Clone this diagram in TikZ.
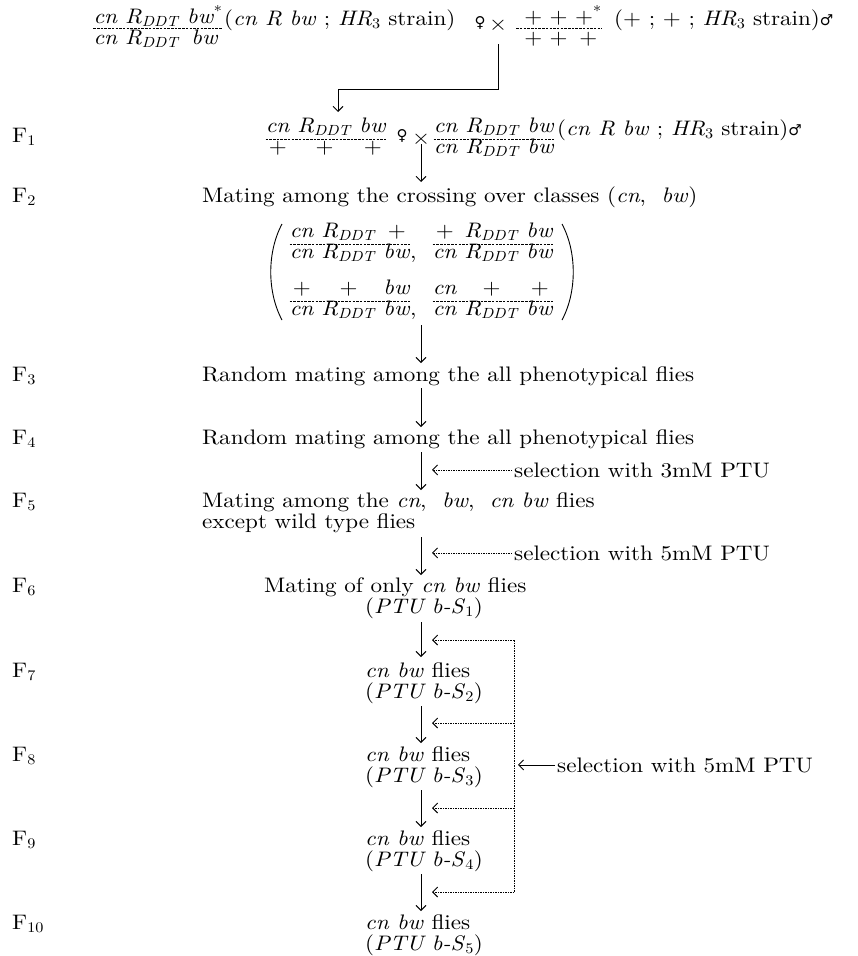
\documentclass[tikz,border=0pt]{standalone}
\usepackage{fontspec}
\setmainfont{lmroman10}[Extension=.otf, UprightFont=*-regular, ItalicFont=*-italic, BoldFont=*-bold, BoldItalicFont=*-bolditalic, FakeStretch=1.1]
\newfontfamily\symf{DejaVu Sans}
\usetikzlibrary{arrows.meta}
\newcommand{\gi}[1]{\textit{#1}}
\newcommand{\Rd}{\textit{R}\textsubscript{\textit{DDT}}}
\newcommand{\gfr}[6]{\begin{tabular}{@{}c@{\hspace{0.35em}}c@{\hspace{0.35em}}c@{}}#1&#2&#3\\#4&#5&#6\end{tabular}}
\newcommand{\fem}{{\symf\fontsize{15}{15}\selectfont ♀}}
\newcommand{\mal}{{\symf\fontsize{15}{15}\selectfont ♂}}
\begin{document}
\begin{tikzpicture}[x=1pt,y=-1pt,
  font=\fontsize{21}{21}\selectfont,
  every node/.style={inner sep=0pt},
  txt/.style={anchor=base west},
  arr/.style={line width=0.9pt,-{Straight Barb[length=5pt,width=10pt,line width=0.9pt]}},
  darr/.style={line width=0.8pt,dash pattern=on 1.5pt off 1pt,-{Straight Barb[length=5pt,width=10pt,line width=0.9pt]}},
  dline/.style={line width=0.8pt,dash pattern=on 1.5pt off 1pt},
  gbar/.style={line width=0.6pt,dash pattern=on 2.5pt off 1.2pt},
  paren/.style={line width=0.9pt}]
\useasboundingbox (0,0) rectangle (858,956);
% parental cross
\node (p1) at (158,28) {\gfr{\gi{cn}}{\Rd}{\gi{bw}\textsuperscript{*}}{\gi{cn}}{\Rd}{\gi{bw}}};
\draw[gbar] (p1.west) -- (p1.east);
\node[txt] (p1s) at (224,25) {(\gi{cn} \gi{R} \gi{bw} ; \gi{HR}\textsubscript{3} strain)};
\node (fem0) at (480,23) {\fem};
\node (x0) at (498,25) {×};
\node (p2) at (563,28) {\gfr{+}{+}{+\textsuperscript{*}}{+}{+}{+}};
\draw[gbar] ([xshift=-8pt]p2.west) -- (p2.east);
\node[txt] (p2s) at (614,25) {(+ ;\ + ;\ \gi{HR}\textsubscript{3} strain)\mal};
\coordinate (c0) at (498,44);
\coordinate (c1) at (338,89);
\coordinate (f1t) at (338,112);
\draw[arr] (c0) |- (c1) -- (f1t);
% F1
\node[txt] (L1) at (12,142) {F\textsubscript{1}};
\node (q1) at (326,139) {\gfr{\gi{cn}}{\Rd}{\gi{bw}}{+}{+}{+}};
\draw[gbar] (q1.west) -- (q1.east);
\node (fem1) at (402,136) {\fem};
\node (x1) at (421,139) {×};
\node (q2) at (494,139) {\gfr{\gi{cn}}{\Rd}{\gi{bw}}{\gi{cn}}{\Rd}{\gi{bw}}};
\draw[gbar] (q2.west) -- (q2.east);
\node[txt] (q2s) at (557,135) {(\gi{cn} \gi{R} \gi{bw} ; \gi{HR}\textsubscript{3} strain)\mal};
\coordinate (f2t) at (421,182);
\draw[arr] (x1.south) -- (f2t);
% F2
\node[txt] (L2) at (12,202) {F\textsubscript{2}};
\node[txt] (t2) at (202,202) {Mating among the crossing over classes (\gi{cn},\ \ \gi{bw})};
\node (m11) at (350,244) {\gfr{\gi{cn}}{\Rd}{+}{\gi{cn}}{\Rd}{\gi{bw}\rlap{,}}};
\node (m12) at (493,244) {\gfr{+}{\Rd}{\gi{bw}}{\gi{cn}}{\Rd}{\gi{bw}}};
\node (m21) at (350,301) {\gfr{+}{+}{\gi{bw}}{\gi{cn}}{\Rd}{\gi{bw}\rlap{,}}};
\node (m22) at (493,301) {\gfr{\gi{cn}}{+}{+}{\gi{cn}}{\Rd}{\gi{bw}}};
\foreach \m in {m11,m12,m21,m22} \draw[gbar] (\m.west) -- (\m.east);
\draw[paren] (282,224) .. controls (267,252) and (267,292) .. (282,320);
\draw[paren] (562,224) .. controls (577,252) and (577,292) .. (562,320);
\coordinate (a2s) at (421,325);
\coordinate (a2e) at (421,363);
\draw[arr] (a2s) -- (a2e);
% F3
\node[txt] (L3) at (12,381) {F\textsubscript{3}};
\node[txt] (t3) at (202,381) {Random mating among the all phenotypical flies};
\coordinate (a3s) at (421,388);
\coordinate (a3e) at (421,427);
\draw[arr] (a3s) -- (a3e);
% F4
\node[txt] (L4) at (12,444) {F\textsubscript{4}};
\node[txt] (t4) at (202,444) {Random mating among the all phenotypical flies};
\coordinate (a4s) at (421,452);
\coordinate (a4e) at (421,490);
\draw[arr] (a4s) -- (a4e);
\coordinate (tip) at (432,0);
\node[txt] (s3) at (514,477) {selection with 3mM PTU};
\draw[darr] ([xshift=-2pt]s3.west) -- (s3.west -| tip);
% F5
\node[txt] (L5) at (12,507) {F\textsubscript{5}};
\node[txt] (t5a) at (202,507) {Mating among the \gi{cn},\ \ \gi{bw},\ \ \gi{cn bw} flies};
\node[txt] (t5b) at (202,528) {except wild type flies};
\coordinate (a5s) at (421,537);
\coordinate (a5e) at (421,575);
\draw[arr] (a5s) -- (a5e);
\node[txt] (s5) at (514,560) {selection with 5mM PTU};
\draw[darr] ([xshift=-2pt]s5.west) -- (s5.west -| tip);
% F6
\node[txt] (L6) at (12,592) {F\textsubscript{6}};
\node[txt] (t6a) at (264,592) {Mating of only \gi{cn bw} flies};
\node[txt] (t6b) at (365,613) {(\gi{PTU b-S}\textsubscript{1})};
\coordinate (a6s) at (421,622);
\coordinate (a6e) at (421,657);
\draw[arr] (a6s) -- (a6e);
% F7-F10
\foreach \n/\y in {7/677,8/761,9/845,10/929}{
  \node[txt] (L\n) at (12,\y) {F\textsubscript{\n}};
  \node[txt] (t\n a) at (365,\y) {\gi{cn bw} flies};
  \pgfmathtruncatemacro{\k}{\n-5}
  \node[txt] (t\n b) at (365,\y+21) {(\gi{PTU b-S}\textsubscript{\k})};
}
\coordinate (a7s) at (421,706);
\coordinate (a7e) at (421,743);
\coordinate (a8s) at (421,790);
\coordinate (a8e) at (421,827);
\coordinate (a9s) at (421,874);
\coordinate (a9e) at (421,911);
\draw[arr] (a7s) -- (a7e);
\draw[arr] (a8s) -- (a8e);
\draw[arr] (a9s) -- (a9e);
% bracket of selections
\coordinate (br1) at (514,640);
\coordinate (br2) at (514,723);
\coordinate (br3) at (514,808);
\coordinate (br4) at (514,892);
\draw[dline] (br1) -- (br4);
\foreach \b in {br1,br2,br3,br4} \draw[darr] (\b) -- (\b -| tip);
\coordinate (brx) at (518,0);
\node[txt] (s6) at (557,772) {selection with 5mM PTU};
\draw[arr] ([xshift=-2pt]s6.west) -- (s6.west -| brx);
\end{tikzpicture}
\end{document}
